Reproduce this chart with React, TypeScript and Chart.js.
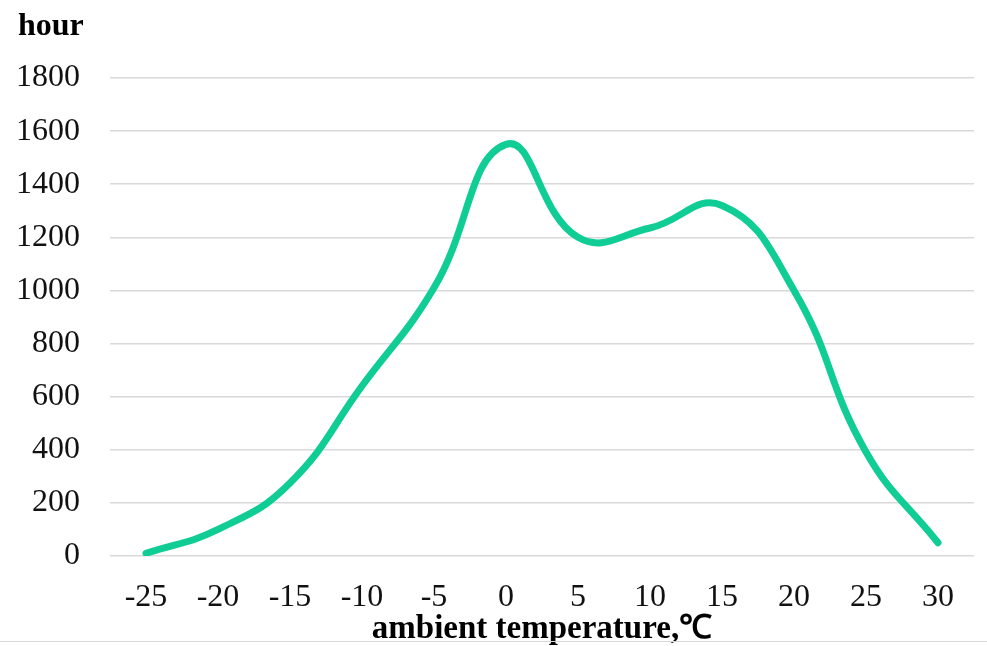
import React, { useEffect, useRef } from "react";
import { Chart, registerables } from "chart.js";

Chart.register(...registerables);

const categories = ["-25", "-20", "-15", "-10", "-5", "0", "5", "10", "15", "20", "25", "30"];
const hours = [10, 100, 275, 640, 1010, 1550, 1200, 1235, 1320, 1000, 392, 50];
const yTicks = [0, 200, 400, 600, 800, 1000, 1200, 1400, 1600, 1800];

export default function App() {
  const ref = useRef<HTMLCanvasElement | null>(null);
  useEffect(() => {
    document.body.style.margin = "0";
    const font = "'Liberation Serif', 'Times New Roman', serif";
    const chart = new Chart(ref.current!, {
      type: "line",
      data: {
        labels: categories,
        datasets: [
          {
            data: hours,
            borderColor: "#10CD96",
            borderWidth: 7,
            pointRadius: 0,
            tension: 0.45,
            borderCapStyle: "round",
            fill: false,
          },
        ],
      },
      options: {
        responsive: false,
        animation: false,
        layout: { padding: { left: 18, right: 13, top: 11, bottom: 0 } },
        plugins: {
          legend: { display: false },
          tooltip: { enabled: false },
          title: {
            display: true,
            text: "hour",
            align: "start",
            color: "#000",
            font: { family: font, size: 32, weight: "bold", lineHeight: 1 },
            padding: { top: 0, bottom: 35 },
          },
        },
        scales: {
          x: {
            offset: true,
            afterFit: (axis: any) => {
              axis.height = 90;
            },
            grid: { display: false, drawTicks: false },
            border: { display: false },
            ticks: { color: "#111", font: { family: font, size: 32, lineHeight: 1 }, padding: 26, maxRotation: 0 },
            title: {
              display: true,
              text: "ambient temperature,℃",
              color: "#000",
              font: { family: font, size: 33, weight: "bold", lineHeight: 1 },
              padding: { top: 0, bottom: 0 },
            },
          },
          y: {
            min: 0,
            max: 1800,
            afterFit: (axis: any) => {
              axis.width = 92;
            },
            afterBuildTicks: (axis: any) => {
              axis.ticks = yTicks.map((v) => ({ value: v }));
            },
            grid: { color: "#d9d9d9", lineWidth: 1.5, drawTicks: false },
            border: { display: false },
            ticks: {
              color: "#111",
              font: { family: font, size: 32, lineHeight: 1 },
              padding: 30,
              callback: (v: any) => String(v),
            },
          },
        },
      },
    } as any);
    return () => chart.destroy();
  }, []);
  return (
    <div style={{ width: 987, height: 646, position: "relative", background: "#fff" }}>
      <canvas ref={ref} width={987} height={646} style={{ display: "block" }} />
      <div style={{ position: "absolute", left: 0, right: 0, top: 641, height: 1, background: "#d9d9d9" }} />
    </div>
  );
}
